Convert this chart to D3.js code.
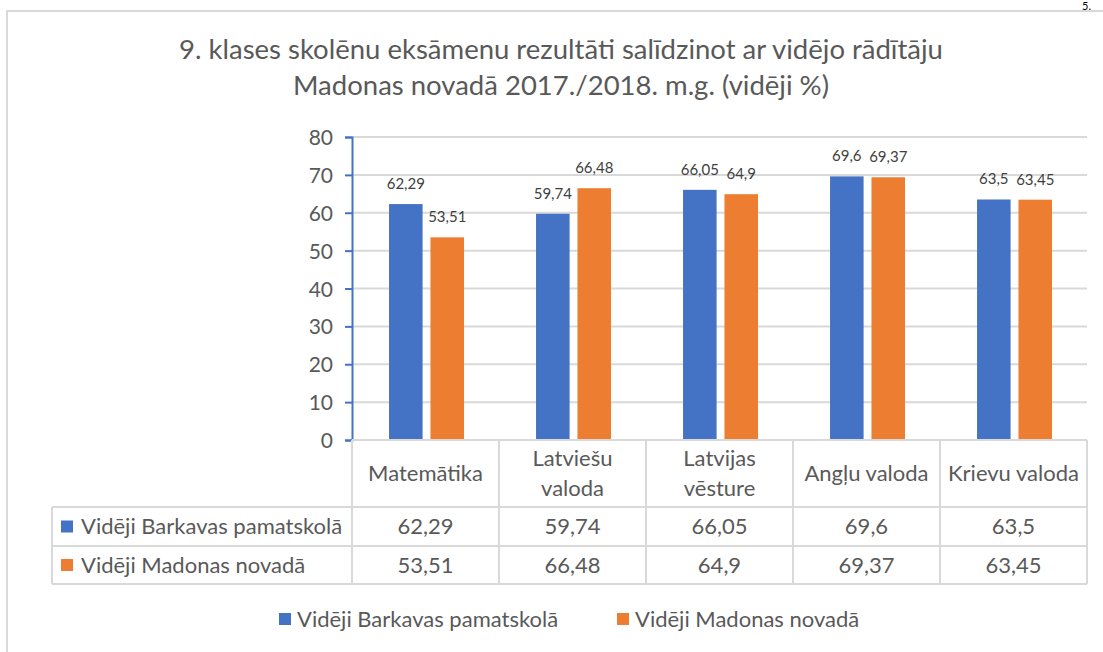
<!DOCTYPE html>
<html>
<head>
<meta charset="utf-8">
<script src="https://cdn.jsdelivr.net/npm/d3@7"></script>
<style>
  body { margin: 0; background: #fff; }
  text { font-family: Lato, "Open Sans", sans-serif; fill: #595959; }
</style>
</head>
<body>
<div id="chart"></div>
<script>
// chart values
var categories = ["Matemātika", "Latviešu valoda", "Latvijas vēsture", "Angļu valoda", "Krievu valoda"];
var headerLines = [["Matemātika"], ["Latviešu", "valoda"], ["Latvijas", "vēsture"], ["Angļu valoda"], ["Krievu valoda"]];
var seriesNames = ["Vidēji Barkavas pamatskolā", "Vidēji Madonas novadā"];
var barkava = [62.29, 59.74, 66.05, 69.6, 63.5];
var madona = [53.51, 66.48, 64.9, 69.37, 63.45];
var yTicks = [0, 10, 20, 30, 40, 50, 60, 70, 80];
var titleLines = ["9. klases skolēnu eksāmenu rezultāti salīdzinot ar vidējo rādītāju",
                  "Madonas novadā 2017./2018. m.g. (vidēji %)"];
var colors = ["#4472c4", "#ed7d31"];

var series = [barkava, madona];
var fmt = function(v) { return String(v).replace(".", ","); };

var svgWidth = 1103, svgHeight = 652;
var plot = { left: 352, right: 1087, top: 137, bottom: 440 };
var rowH = [67, 39, 38];   // header row, series rows
var tableLeft = 52;

var svg = d3.select("#chart").append("svg")
  .attr("width", svgWidth)
  .attr("height", svgHeight);

// chart frame
svg.append("rect")
  .attr("x", 7).attr("y", 11)
  .attr("width", 1110).attr("height", 700)
  .attr("fill", "none")
  .attr("stroke", "#d9d9d9")
  .attr("stroke-width", 2);

// page number at the very top
svg.append("text")
  .attr("x", 1082).attr("y", 10)
  .style("font-size", "11px")
  .style("fill", "#000")
  .text("5.");

// title
svg.append("g").selectAll("text")
  .data(titleLines)
  .enter()
  .append("text")
  .attr("x", 561)
  .attr("y", (d, i) => 59 + i * 36)
  .attr("text-anchor", "middle")
  .style("font-size", "27.5px")
  .text(d => d);

// scales
var x0 = d3.scaleBand()
  .domain(categories)
  .range([plot.left, plot.right]);

var x1 = d3.scaleBand()
  .domain(d3.range(series.length))
  .range([x0.bandwidth() * 0.252, x0.bandwidth() * 0.762])
  .paddingInner(0.19);

var y = d3.scaleLinear()
  .domain([0, 80])
  .range([plot.bottom, plot.top]);

// gridlines
svg.append("g").selectAll("line")
  .data(yTicks.slice(1))
  .enter()
  .append("line")
  .attr("x1", plot.left).attr("x2", plot.right)
  .attr("y1", d => y(d)).attr("y2", d => y(d))
  .attr("stroke", "#d9d9d9")
  .attr("stroke-width", 2);

// bars
var groups = svg.append("g").selectAll("g")
  .data(categories)
  .enter()
  .append("g")
  .attr("transform", d => `translate(${x0(d)},0)`);

groups.selectAll("rect")
  .data((d, i) => series.map((s, k) => ({ k: k, v: s[i] })))
  .enter()
  .append("rect")
  .attr("x", d => x1(d.k))
  .attr("y", d => y(d.v))
  .attr("width", x1.bandwidth())
  .attr("height", d => y(0) - y(d.v))
  .attr("fill", d => colors[d.k]);

// data labels
groups.selectAll("text")
  .data((d, i) => series.map((s, k) => ({ k: k, v: s[i] })))
  .enter()
  .append("text")
  .attr("x", d => x1(d.k) + x1.bandwidth() / 2)
  .attr("y", d => y(d.v) - 15)
  .attr("text-anchor", "middle")
  .style("font-size", "15px")
  .style("fill", "#404040")
  .text(d => fmt(d.v));

// y axis
var leftAxis = d3.axisLeft(y)
  .tickValues(yTicks)
  .tickSize(7)
  .tickPadding(12);

var yAxis = svg.append("g")
  .attr("transform", `translate(${plot.left},0)`)
  .call(leftAxis);
yAxis.select(".domain").attr("stroke", "#4472c4").attr("stroke-width", 2);
yAxis.selectAll(".tick line").attr("stroke", "#4472c4").attr("stroke-width", 2);
yAxis.selectAll(".tick text")
  .style("font-size", "21px")
  .style("font-family", "Lato, sans-serif")
  .attr("fill", "#595959")
  .attr("dy", "0.36em");

// data table
var table = svg.append("g");
var rowTop = [plot.bottom, plot.bottom + rowH[0], plot.bottom + rowH[0] + rowH[1]];
var tableBottom = rowTop[2] + rowH[2];
var lineStyle = sel => sel.attr("stroke", "#d9d9d9").attr("stroke-width", 2);

// horizontal lines
table.append("line").attr("x1", plot.left).attr("x2", plot.right)
  .attr("y1", rowTop[0]).attr("y2", rowTop[0]).call(lineStyle);
[rowTop[1], rowTop[2], tableBottom].forEach(function(yy) {
  table.append("line").attr("x1", tableLeft).attr("x2", plot.right)
    .attr("y1", yy).attr("y2", yy).call(lineStyle);
});
// vertical lines
table.append("line").attr("x1", tableLeft).attr("x2", tableLeft)
  .attr("y1", rowTop[1]).attr("y2", tableBottom).call(lineStyle);
categories.forEach(function(c) {
  table.append("line").attr("x1", x0(c)).attr("x2", x0(c))
    .attr("y1", rowTop[0]).attr("y2", tableBottom).call(lineStyle);
});
table.append("line").attr("x1", plot.right).attr("x2", plot.right)
  .attr("y1", rowTop[0]).attr("y2", tableBottom).call(lineStyle);

// header labels
categories.forEach(function(c, i) {
  var lines = headerLines[i];
  var cy = rowTop[0] + rowH[0] / 2;
  table.append("text")
    .attr("x", x0(c) + x0.bandwidth() / 2)
    .attr("text-anchor", "middle")
    .style("font-size", "22px")
    .selectAll("tspan")
    .data(lines)
    .enter()
    .append("tspan")
    .attr("x", x0(c) + x0.bandwidth() / 2)
    .attr("y", (d, j) => cy + (j - (lines.length - 1) / 2) * 30)
    .attr("dy", "0.36em")
    .text(d => d);
});

// series rows
seriesNames.forEach(function(name, k) {
  var cy = rowTop[k + 1] + rowH[k + 1] / 2;
  table.append("rect")
    .attr("x", 61).attr("y", cy - 6)
    .attr("width", 12).attr("height", 12)
    .attr("fill", colors[k]);
  table.append("text")
    .attr("x", 81).attr("y", cy)
    .attr("dy", "0.36em")
    .style("font-size", "22px")
    .text(name);
  categories.forEach(function(c, i) {
    table.append("text")
      .attr("x", x0(c) + x0.bandwidth() / 2)
      .attr("y", cy)
      .attr("dy", "0.36em")
      .attr("text-anchor", "middle")
      .style("font-size", "22px")
      .text(fmt(series[k][i]));
  });
});

// legend
var legendX = [279, 617];
var legend = svg.append("g").selectAll("g")
  .data(seriesNames)
  .enter()
  .append("g")
  .attr("transform", (d, i) => `translate(${legendX[i]},619)`);
legend.append("rect")
  .attr("x", 0).attr("y", -6)
  .attr("width", 12).attr("height", 12)
  .attr("fill", (d, i) => colors[i]);
legend.append("text")
  .attr("x", 18).attr("dy", "0.36em")
  .style("font-size", "22px")
  .text(d => d);
</script>
</body>
</html>
